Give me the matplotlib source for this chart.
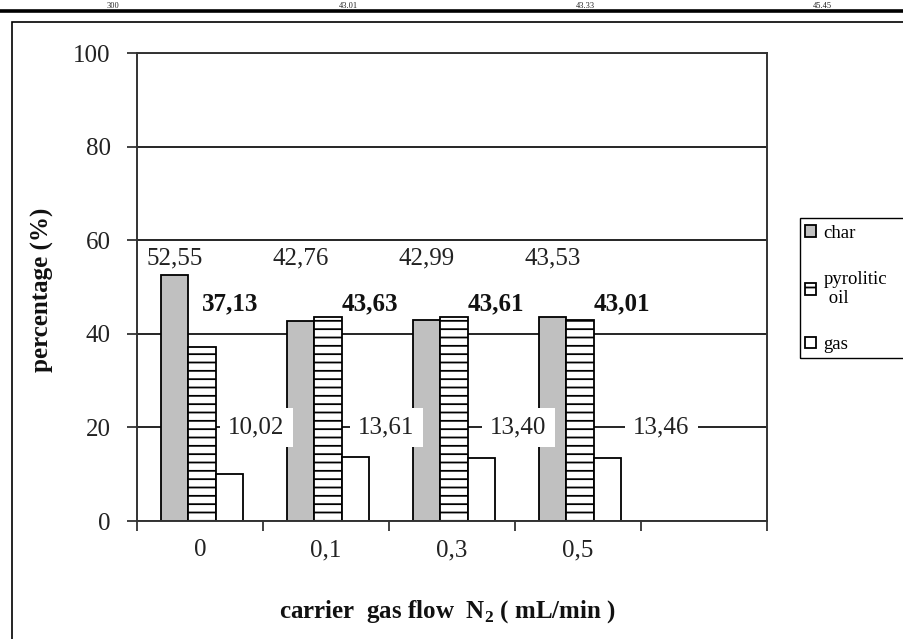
import numpy as np
import matplotlib
matplotlib.use("Agg")
import matplotlib.pyplot as plt
from matplotlib.patches import Rectangle
from matplotlib.lines import Line2D

plt.rcParams['font.family'] = ['Liberation Serif', 'DejaVu Serif']
plt.rcParams['mathtext.fontset'] = 'custom'
plt.rcParams['mathtext.rm'] = 'Liberation Serif'
plt.rcParams['mathtext.bf'] = 'Liberation Serif:bold'
plt.rcParams['hatch.linewidth'] = 1.3

# data
flows = ['0', '0,1', '0,3', '0,5']
char = [52.55, 42.76, 42.99, 43.53]
oil = [37.13, 43.63, 43.61, 43.01]
gas = [10.02, 13.61, 13.40, 13.46]
series_names = ['char', 'pyrolitic\n oil', 'gas']
# cut-off table row above the chart
table_row = ['300', '43.01', '43.33', '45.45']

W, H = 904, 639
fig = plt.figure(figsize=(W / 100, H / 100), dpi=100)

def fx(px):
    return px / W

def fy(py):
    return 1 - py / H

# remains of the table above
for txt, xp in zip(table_row, [113, 348, 585, 822]):
    fig.text(fx(xp), fy(8), txt, ha='center', va='baseline', fontsize=6, color='#222')
fig.add_artist(Line2D([0, 1], [fy(11), fy(11)], color='black', lw=2.6))

# outer frame of the chart
fig.add_artist(Rectangle((fx(12), -0.1), 1.0, fy(22) + 0.1, fill=False,
                         edgecolor='black', lw=1.2, transform=fig.transFigure))

ax = fig.add_axes([fx(137), fy(521), fx(767) - fx(137), fy(53) - fy(521)])

n = len(flows)
x = np.arange(n)
w = 0.218
sh = 0.015
ec = 'black'
b1 = ax.bar(x - w + sh, char, w, color='#c0c0c0', edgecolor=ec, lw=1.3, zorder=2)
b2 = ax.bar(x + sh, oil, w, color='white', edgecolor=ec, lw=1.3, hatch='--', zorder=2)
b3 = ax.bar(x + w + sh, gas, w, color='white', edgecolor=ec, lw=1.3, zorder=2)

ax.set_xlim(-0.5, n + 0.5)
ax.set_ylim(0, 100)
ax.set_yticks(np.arange(0, 101, 20))
ax.yaxis.grid(True, color='black', lw=1.2)
ax.set_axisbelow(True)

ax.set_xticks(np.arange(-0.5, n + 1, 1))
ax.set_xticklabels([])
ax.set_xticks(np.arange(n + 1), flows + [''], minor=True)
ax.tick_params(axis='x', which='major', direction='out', length=7, width=1.3, color='#333')
ax.tick_params(axis='x', which='minor', length=0, pad=13, labelsize=18, labelcolor='#222')
ax.tick_params(axis='y', direction='out', length=7, width=1.3, color='#333',
               pad=12, labelsize=18, labelcolor='#222')
for s in ax.spines.values():
    s.set_color('#333')
    s.set_linewidth(1.4)

def fmt(v):
    return f"{v:.2f}".replace('.', ',')

# data labels
oil_dx = [-0.11, 0.0, 0.0, 0.0]
gas_dx = [0.222, 0.254, 0.302, 0.437]
for i in range(n):
    ax.text(x[i] - w + sh, 56, fmt(char[i]), ha='center', va='center',
            fontsize=18, color='#222', zorder=4)
    ax.text(x[i] + sh + w / 2 + oil_dx[i], 46.4, fmt(oil[i]), ha='left', va='center',
            fontsize=18, fontweight='bold', color='#111', zorder=4)
    ax.text(x[i] + gas_dx[i], 20, fmt(gas[i]), ha='left', va='center',
            fontsize=18, color='#222', zorder=4,
            bbox=dict(facecolor='white', edgecolor='none', pad=6))

fig.text(fx(42), fy(290), 'percentage (%)', rotation=90, ha='center', va='center',
         fontsize=18, fontweight='bold', color='#111')
fig.text(fx(447), fy(612), r'carrier  gas flow  N$_{\mathbf{2}}$ ( mL/min )',
         ha='center', va='center', fontsize=18, fontweight='bold', color='#111')

# legend
fig.add_artist(Rectangle((fx(800), fy(358)), 0.2, fy(218) - fy(358), fill=False,
                         edgecolor='black', lw=1.0, transform=fig.transFigure))
leg = fig.legend([b1, b2, b3], series_names, loc='upper left',
                 bbox_to_anchor=(fx(805), fy(225)), frameon=False, fontsize=13.5,
                 handlelength=0.6, handleheight=0.6, handletextpad=0.4,
                 labelspacing=1.55, borderpad=0.0, borderaxespad=0.0)
for t in leg.get_texts():
    t.set_linespacing(1.15)

fig.savefig('out.png', dpi=100)
